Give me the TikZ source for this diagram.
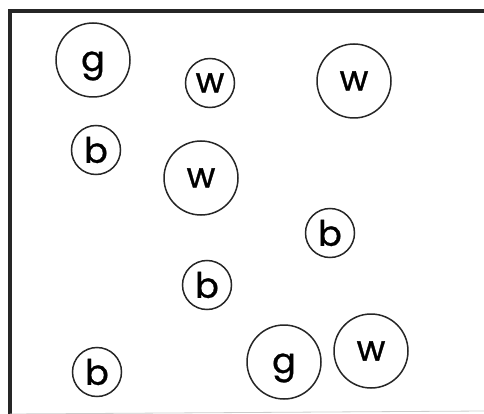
\documentclass[tikz,border=0pt]{standalone}
\usepackage{fontspec}
\setmainfont{Poppins}[FakeBold=0.9]
\newcommand{\lowg}{\raisebox{-11pt}[0pt][0pt]{g}}
\begin{document}
\begin{tikzpicture}[x=1pt,y=-1pt,
  token/.style={circle,draw=black!85,line width=1.5pt,inner sep=0pt,
    font=\fontsize{35}{35}\selectfont},
  big/.style={token,minimum size=74pt},
  small/.style={token,minimum size=49pt},
  frame/.style={line width=3.2pt,black!85}]
\useasboundingbox (0,0) rectangle (484,414);
\fill[white] (0,0) rectangle (484,414);
\coordinate (tl) at (10,11);
\coordinate (tr) at (484,11);
\coordinate (bl) at (10,414);
\coordinate (br) at (484,411);
\draw[frame] (tr) -- (tl) -- (bl);
\draw[black!20,line width=0.8pt] (bl) -- (br);
\node[big]   (g1) at (93,60)   {\lowg};
\node[small] (w1) at (210,83)  {w};
\node[big]   (w2) at (354,81)  {w};
\node[small] (b1) at (96,150)  {b};
\node[big]   (w3) at (201,178) {w};
\node[small] (b2) at (330,233) {b};
\node[small] (b3) at (207,285) {b};
\node[small] (b4) at (97,372)  {b};
\node[big]   (g2) at (284,362) {\lowg};
\node[big]   (w4) at (371,351) {w};
\end{tikzpicture}
\end{document}
